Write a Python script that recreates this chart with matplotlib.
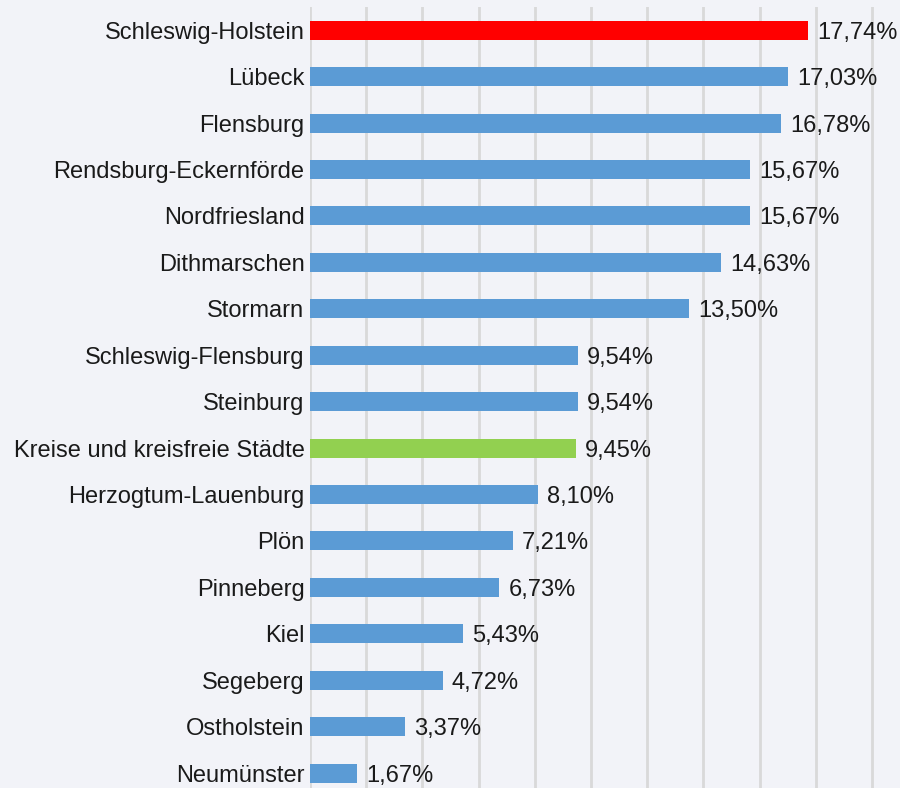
import matplotlib.pyplot as plt

plt.rcParams['font.family'] = ['Liberation Sans', 'DejaVu Sans']

regions = ['Schleswig-Holstein', 'Lübeck', 'Flensburg', 'Rendsburg-Eckernförde',
           'Nordfriesland', 'Dithmarschen', 'Stormarn', 'Schleswig-Flensburg',
           'Steinburg', 'Kreise und kreisfreie Städte', 'Herzogtum-Lauenburg',
           'Plön', 'Pinneberg', 'Kiel', 'Segeberg', 'Ostholstein', 'Neumünster']
values = [17.74, 17.03, 16.78, 15.67, 15.67, 14.63, 13.50, 9.54, 9.54, 9.45,
          8.10, 7.21, 6.73, 5.43, 4.72, 3.37, 1.67]

bg = '#f2f3f8'
colors = []
for r in regions:
    if r == 'Schleswig-Holstein':
        colors.append('#ff0000')
    elif r == 'Kreise und kreisfreie Städte':
        colors.append('#92d050')
    else:
        colors.append('#5b9bd5')

fig = plt.figure(figsize=(9, 7.88), dpi=100, facecolor=bg)
ax = fig.add_axes([310/900, 0, 590/900, 781/788], facecolor=bg)

y = range(len(regions))
ax.barh(y, values, height=0.41, color=colors, zorder=3)

for i, v in enumerate(values):
    ax.text(v + 0.33, i, f'{v:.2f}%'.replace('.', ','), va='center_baseline', ha='left',
            fontsize=17, color='#1a1a1a', zorder=4)

ax.set_xlim(0, 21)
ax.set_ylim(16.32, -0.5)
ax.set_xticks(range(0, 22, 2))
ax.set_xticklabels([])
ax.tick_params(axis='x', length=0)
ax.grid(axis='x', color='#d9d9d9', linewidth=2, zorder=0)

ax.set_yticks(list(y))
ax.set_yticklabels(regions, fontsize=17, color='#1a1a1a')
ax.tick_params(axis='y', length=0, pad=4)

for s in ax.spines.values():
    s.set_visible(False)

plt.savefig('out.png', facecolor=bg)
